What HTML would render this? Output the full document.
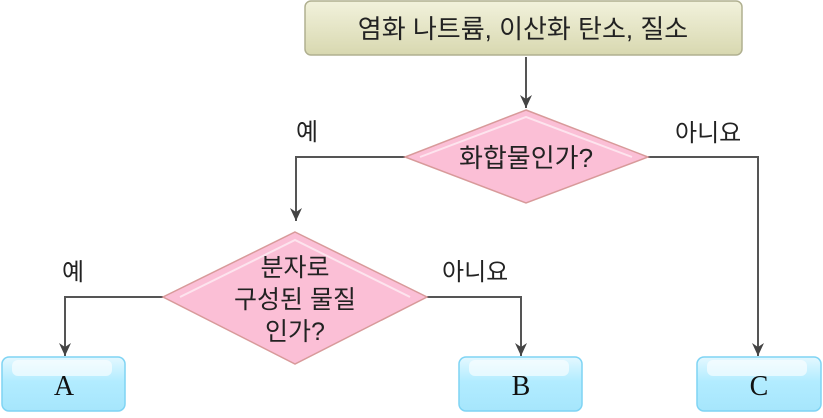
<!DOCTYPE html>
<html><head><meta charset="utf-8"><style>
body{margin:0;background:#fff;width:823px;height:413px;overflow:hidden}
text{font-family:"Liberation Sans","Noto Sans CJK KR",sans-serif;fill:#222}
</style></head><body>
<svg width="823" height="413" viewBox="0 0 823 413">
<defs>
<linearGradient id="tg" x1="0" y1="0" x2="0" y2="1"><stop offset="0" stop-color="#f2f2dc"/><stop offset="1" stop-color="#d8d8b0"/></linearGradient>
<linearGradient id="bg" x1="0" y1="0" x2="0" y2="1"><stop offset="0" stop-color="#e4f8ff"/><stop offset="0.45" stop-color="#b2ecff"/><stop offset="1" stop-color="#a6e6fc"/></linearGradient>
<marker id="ar" markerWidth="14" markerHeight="12" refX="13" refY="6" orient="auto" markerUnits="userSpaceOnUse"><path d="M0,0 L13,6 L0,12 L4,6 Z" fill="#444"/></marker>
</defs>
<rect x="305" y="1" width="437" height="54" rx="6" fill="url(#tg)" stroke="#b0b090" stroke-width="1.5"/>
<text x="523" y="38" font-size="26" text-anchor="middle">염화 나트륨, 이산화 탄소, 질소</text>
<g stroke="#555" stroke-width="2" fill="none">
<line x1="526" y1="57" x2="526" y2="108" marker-end="url(#ar)"/>
<polyline points="405,157 296,157 296,221" marker-end="url(#ar)"/>
<polyline points="648,157 758,157 758,356" marker-end="url(#ar)"/>
<polyline points="163,297 65,297 65,356" marker-end="url(#ar)"/>
<polyline points="427,297 521,297 521,356" marker-end="url(#ar)"/>
</g>
<polygon points="526,110 648,157 526,203 405,157" fill="#fbbfd6" stroke="#d89a9a" stroke-width="1.5"/>
<polyline points="420,157 526,117 632,157" fill="none" stroke="#fde4ee" stroke-width="2"/>
<text x="526" y="167" font-size="26" text-anchor="middle">화합물인가?</text>
<polygon points="295,232 427,297 295,364 163,297" fill="#fbbfd6" stroke="#d89a9a" stroke-width="1.5"/>
<polyline points="180,297 295,240 410,297" fill="none" stroke="#fde4ee" stroke-width="2"/>
<text font-size="25" text-anchor="middle"><tspan x="295" y="276">분자로</tspan><tspan x="295" y="308">구성된 물질</tspan><tspan x="295" y="340">인가?</tspan></text>
<text x="296" y="140" font-size="24">예</text>
<text x="675" y="141" font-size="24">아니요</text>
<text x="62" y="280" font-size="24">예</text>
<text x="442" y="280" font-size="24">아니요</text>
<g stroke="#7fd4f4" stroke-width="1.5">
<rect x="2" y="357" width="123" height="54" rx="7" fill="url(#bg)"/>
<rect x="459" y="357" width="123" height="54" rx="7" fill="url(#bg)"/>
<rect x="697" y="357" width="124" height="54" rx="7" fill="url(#bg)"/>
</g>
<g fill="#fff" opacity="0.6">
<rect x="12" y="360" width="100" height="16" rx="6"/>
<rect x="469" y="360" width="100" height="16" rx="6"/>
<rect x="707" y="360" width="100" height="16" rx="6"/>
</g>
<g font-size="28" text-anchor="middle">
<text x="64" y="395" style="font-family:'Liberation Serif',serif;fill:#111">A</text>
<text x="521" y="395" style="font-family:'Liberation Serif',serif;fill:#111">B</text>
<text x="759" y="395" style="font-family:'Liberation Serif',serif;fill:#111">C</text>
</g>
</svg>
</body></html>
